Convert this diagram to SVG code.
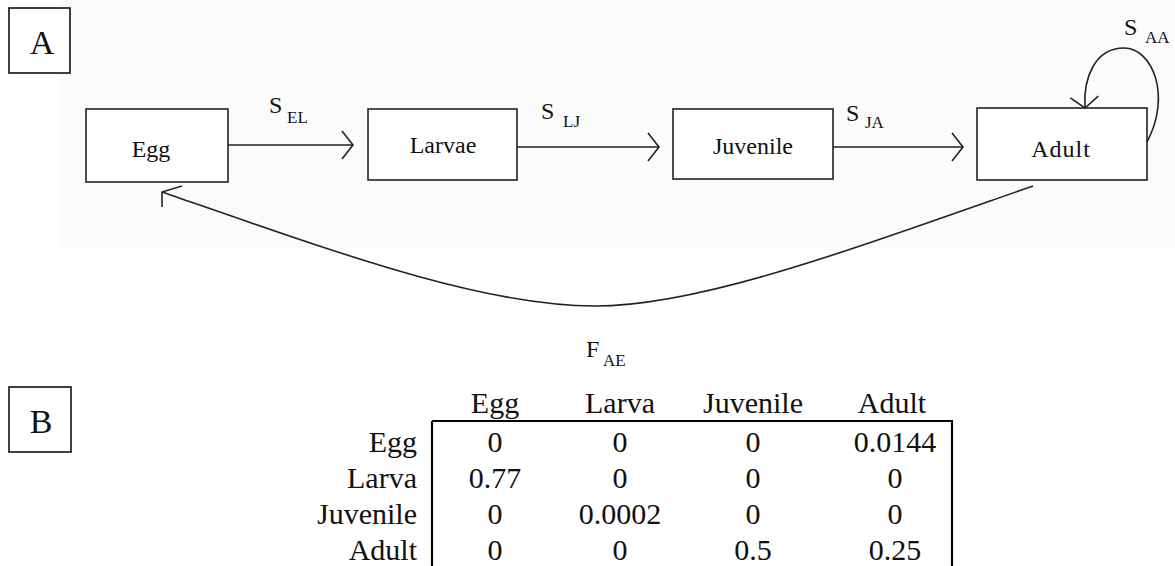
<svg xmlns="http://www.w3.org/2000/svg" width="1175" height="566" viewBox="0 0 1175 566">
<style>
.box{fill:#fff;stroke:#222;stroke-width:1.6}
.lbl{fill:#fff;stroke:#111;stroke-width:1.6}
.t{font-family:"Liberation Serif","Times New Roman",serif;fill:#111}
.node{font-size:24px}
.s{font-size:24px}
.sub{font-size:17px}
.tab{font-size:30px}
.conn{fill:none;stroke:#222;stroke-width:1.6}
.tl{stroke:#000;stroke-width:2.2}
</style>
<defs>
<marker id="open" markerUnits="userSpaceOnUse" viewBox="-16 -16 32 32" markerWidth="32" markerHeight="32" refX="0" refY="0" orient="auto" overflow="visible">
<path d="M-11,-14 L0,0 L-11,14" fill="none" stroke="#222" stroke-width="1.6"/>
</marker>
</defs>
<rect x="60" y="0" width="1115" height="248" fill="#fbfbfb"/>
<g id="panelA">
<rect class="lbl" x="9" y="8" width="61" height="65"/>
<text class="t" x="42" y="54" font-size="34" text-anchor="middle" font-family="Liberation Serif, serif">A</text>
</g>
<g id="node-egg">
<rect class="box" x="86" y="109" width="142" height="73"/>
<text class="t node" x="151" y="157" text-anchor="middle" font-family="Liberation Serif, serif">Egg</text>
</g>
<g id="node-larvae">
<rect class="box" x="368" y="109" width="149" height="71"/>
<text class="t node" x="443" y="153" text-anchor="middle" font-family="Liberation Serif, serif">Larvae</text>
</g>
<g id="node-juvenile">
<rect class="box" x="673" y="109" width="160" height="70"/>
<text class="t node" x="753" y="154" text-anchor="middle" font-family="Liberation Serif, serif">Juvenile</text>
</g>
<g id="node-adult">
<rect class="box" x="977" y="108" width="170" height="72"/>
<text class="t node" x="1061" y="157" text-anchor="middle" font-family="Liberation Serif, serif" letter-spacing="1">Adult</text>
</g>
<g id="connectors">
<path class="conn" d="M228,145 H353" marker-end="url(#open)"/>
<path class="conn" d="M517,147 H659" marker-end="url(#open)"/>
<path class="conn" d="M833,147 H963" marker-end="url(#open)"/>
<path class="conn" d="M1147,142 C1172,95 1152,48 1124,48 C1095,48 1083,78 1085,108" marker-end="url(#open)"/>
<path class="conn" d="M1033,186 C850,250 700,306 595,306 C480,306 330,250 162,192"/>
<path class="conn" d="M182,186 L162,192 L162,207"/>
</g>
<g id="connector-labels" font-family="Liberation Serif, serif">
<text class="t s" x="269" y="113">S</text><text class="t sub" x="287" y="123">EL</text>
<text class="t s" x="541" y="119">S</text><text class="t sub" x="563" y="127">LJ</text>
<text class="t s" x="846" y="121">S</text><text class="t sub" x="865" y="128">JA</text>
<text class="t s" x="1124" y="35">S</text><text class="t sub" x="1145" y="43">AA</text>
<text class="t s" x="586" y="357">F</text><text class="t sub" x="603" y="366">AE</text>
</g>
<g id="panelB">
<rect class="lbl" x="9" y="387" width="62" height="65"/>
<text class="t" x="41" y="433" font-size="34" text-anchor="middle" font-family="Liberation Serif, serif">B</text>
</g>
<g id="matrix" class="t tab" font-family="Liberation Serif, serif">
<line class="tl" x1="432" y1="421" x2="953" y2="421"/>
<line class="tl" x1="432" y1="421" x2="432" y2="566"/>
<line class="tl" x1="952" y1="421" x2="952" y2="566"/>
<g text-anchor="middle">
<text x="495" y="413">Egg</text><text x="620" y="413">Larva</text><text x="753" y="413">Juvenile</text><text x="892" y="413">Adult</text>
<text x="495" y="452">0</text><text x="620" y="452">0</text><text x="753" y="452">0</text><text x="895" y="452">0.0144</text>
<text x="495" y="488">0.77</text><text x="620" y="488">0</text><text x="753" y="488">0</text><text x="895" y="488">0</text>
<text x="495" y="524">0</text><text x="620" y="524">0.0002</text><text x="753" y="524">0</text><text x="895" y="524">0</text>
<text x="495" y="560">0</text><text x="620" y="560">0</text><text x="753" y="560">0.5</text><text x="895" y="560">0.25</text>
</g>
<g text-anchor="end">
<text x="417" y="452">Egg</text><text x="417" y="488">Larva</text><text x="417" y="524">Juvenile</text><text x="417" y="560">Adult</text>
</g>
</g>
</svg>
